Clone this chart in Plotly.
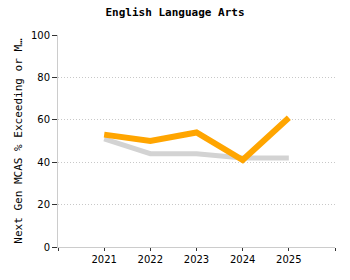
import plotly.graph_objects as go

years = [2021, 2022, 2023, 2024, 2025]
school = [53, 50, 54, 41, 61]
state = [51, 44, 44, 42, 42]
x_ticks = [2020, 2021, 2022, 2023, 2024, 2025, 2026]
x_tick_text = ["", "2021", "2022", "2023", "2024", "2025", ""]
y_ticks = [0, 20, 40, 60, 80, 100]

fig = go.Figure()
fig.add_trace(go.Scatter(x=years, y=state, mode="lines",
                         line=dict(color="#d3d3d3", width=5), showlegend=False))
fig.add_trace(go.Scatter(x=years, y=school, mode="lines",
                         line=dict(color="#FFA500", width=6), showlegend=False))

fig.update_layout(
    width=350, height=280,
    margin=dict(l=58, r=15, t=35, b=33),
    paper_bgcolor="white", plot_bgcolor="white",
    title=dict(text="<b>English Language Arts</b>", x=0.5, xanchor="center",
               y=1 - 12 / 280, yanchor="middle",
               font=dict(family="DejaVu Sans Mono", size=11, color="black")),
    font=dict(family="DejaVu Sans", size=10, color="black"),
    xaxis=dict(range=[2020, 2026], tickvals=x_ticks, ticktext=x_tick_text,
               showgrid=False, zeroline=False, showline=True, linecolor="#cccccc",
               linewidth=1, ticks="outside", ticklen=3, tickcolor="#333333",
               tickfont=dict(family="DejaVu Sans", size=10)),
    yaxis=dict(range=[0, 100], tickvals=y_ticks, showgrid=True,
               gridcolor="#c8c8c8", griddash="1px,2px", gridwidth=1,
               zeroline=False, showline=True, linecolor="#cccccc", linewidth=1,
               ticks="outside", ticklen=5, tickcolor="#333333",
               tickfont=dict(family="DejaVu Sans", size=10),
               title=dict(text="Next Gen MCAS % Exceeding or M…", standoff=6,
                          font=dict(family="DejaVu Sans Mono", size=11))),
)

fig.write_html("out.html")
